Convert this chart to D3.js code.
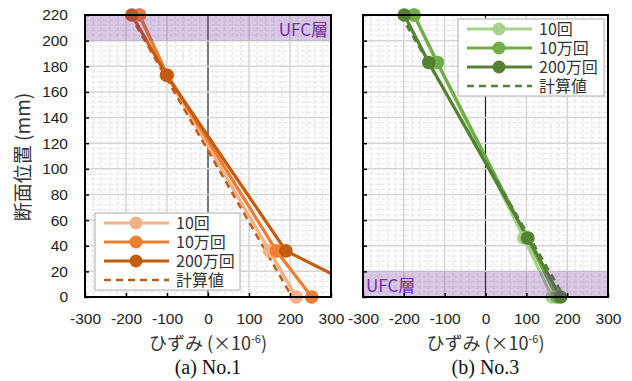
<!DOCTYPE html>
<html><head><meta charset="utf-8">
<script src="https://cdn.jsdelivr.net/npm/d3@7"></script>
<style>body{margin:0;background:#fff}svg{display:block}</style>
</head><body>
<svg id="c" width="632" height="381"></svg>
<script>
// ---- data ----
const xTicks = [-300, -200, -100, 0, 100, 200, 300];
const yTicks = [0, 20, 40, 60, 80, 100, 120, 140, 160, 180, 200, 220];
const seriesNames = ["10回", "10万回", "200万回", "計算値"];

const depthA = [220, 173, 36, 0];
const a10 = [-167, -101, 150, 215];
const a10man = [-167, -99, 167, 253];
const a200man = [-186, -101, 190, 415];
const calcDepthA = [220, 0];
const aCalc = [-190, 205];

const depthB = [220, 183, 46, 0];
const b10 = [-175, -118, 94, 163];
const b10man = [-175, -118, 102, 175];
const b200man = [-199, -139, 104, 184];
const calcDepthB = [220, 0];
const bCalc = [-208, 193];

const ufcA = [200, 220];
const ufcB = [0, 20];

const colorsA = ["#f4b183", "#ed7d31", "#c55a11", "#c55a11"];
const colorsB = ["#a9d18e", "#70ad47", "#548235", "#548235"];

const svg = d3.select("#c");
const pTop = 15, pBottom = 297;
const y = d3.scaleLinear().domain([0, 220]).range([pBottom, pTop]);
const jp = "'Noto Sans CJK JP', 'Noto Sans', sans-serif";
const num = "'Liberation Sans', Arial, sans-serif";

function panel(opts) {
  const x = d3.scaleLinear().domain([-300, 300]).range([opts.left, opts.right]);
  const g = svg.append("g");
  const id = "clip" + opts.key;
  svg.append("clipPath").attr("id", id).append("rect")
    .attr("x", opts.left).attr("y", pTop).attr("width", opts.right - opts.left).attr("height", pBottom - pTop);

  // minor grid
  const minorX = d3.range(-300, 301, 20).filter(v => v % 100 !== 0);
  const minorY = d3.range(0, 221, 4).filter(v => v % 20 !== 0);
  g.selectAll(".mx").data(minorX).join("line")
    .attr("x1", d => x(d)).attr("x2", d => x(d)).attr("y1", pTop).attr("y2", pBottom)
    .attr("stroke", "#ececec").attr("stroke-width", 1.5).attr("stroke-dasharray", "4,2");
  g.selectAll(".my").data(minorY).join("line")
    .attr("y1", d => y(d)).attr("y2", d => y(d)).attr("x1", opts.left).attr("x2", opts.right)
    .attr("stroke", "#ececec").attr("stroke-width", 1.5).attr("stroke-dasharray", "4,2");
  // major grid
  g.selectAll(".gx").data(xTicks).join("line")
    .attr("x1", d => x(d)).attr("x2", d => x(d)).attr("y1", pTop).attr("y2", pBottom)
    .attr("stroke", d => d === 0 ? "#222" : "#d6d6d6").attr("stroke-width", d => d === 0 ? 1.2 : 1.5);
  g.selectAll(".gy").data(yTicks).join("line")
    .attr("y1", d => y(d)).attr("y2", d => y(d)).attr("x1", opts.left).attr("x2", opts.right)
    .attr("stroke", "#d6d6d6").attr("stroke-width", 1.5);

  // series
  const line = d3.line().x(d => x(d[0])).y(d => y(d[1]));
  const lg = g.append("g").attr("clip-path", `url(#${id})`);
  opts.series.forEach((s, i) => {
    const pts = s.map((v, j) => [v, opts.depth[j]]);
    lg.append("path").attr("d", line(pts)).attr("fill", "none")
      .attr("stroke", opts.colors[i]).attr("stroke-width", 3.2).attr("stroke-linejoin", "round");
  });
  const cpts = opts.calc.map((v, j) => [v, opts.calcDepth[j]]);
  lg.append("path").attr("d", line(cpts)).attr("fill", "none")
    .attr("stroke", opts.colors[3]).attr("stroke-width", 2.5).attr("stroke-dasharray", "7,5");
  opts.series.forEach((s, i) => {
    const pts = s.map((v, j) => [v, opts.depth[j]]).filter(p => p[0] >= -300 && p[0] <= 300);
    g.selectAll(null).data(pts).join("circle")
      .attr("cx", d => x(d[0])).attr("cy", d => y(d[1])).attr("r", 6.8)
      .attr("fill", opts.colors[i]);
  });

  // UFC layer
  g.append("rect").attr("x", opts.left).attr("width", opts.right - opts.left)
    .attr("y", y(opts.ufc[1])).attr("height", y(opts.ufc[0]) - y(opts.ufc[1]))
    .attr("fill", "#7030a0").attr("fill-opacity", 0.26);
  g.append("text").text("UFC層").attr("x", opts.ufcX).attr("y", opts.ufcY)
    .attr("text-anchor", opts.ufcAnchor).attr("font-family", jp).attr("font-size", 17)
    .attr("fill", "#7030a0");

  // axes
  const fmt = d => String(d);
  const xa = g.append("g").attr("transform", `translate(0,${pBottom})`)
    .call(d3.axisBottom(x).tickValues(xTicks).tickFormat(fmt).tickSizeInner(-4).tickSizeOuter(0).tickPadding(16));
  xa.select(".domain").remove();
  xa.selectAll("line").attr("stroke", "#000").attr("stroke-width", 1.5);
  xa.selectAll("text").attr("font-family", num).attr("font-size", 15.5).attr("fill", "#222");
  const ya = g.append("g").attr("transform", `translate(${opts.left},0)`)
    .call(d3.axisLeft(y).tickValues(yTicks).tickFormat(fmt).tickSizeInner(-4).tickSizeOuter(0).tickPadding(17));
  ya.select(".domain").remove();
  ya.selectAll("line").attr("stroke", "#000").attr("stroke-width", 1.5);
  ya.selectAll("text").attr("font-family", num).attr("font-size", 15.5).attr("fill", "#222");
  if (!opts.showY) ya.selectAll("text").remove();

  g.append("rect").attr("x", opts.left).attr("y", pTop).attr("width", opts.right - opts.left)
    .attr("height", pBottom - pTop).attr("fill", "none").attr("stroke", "#000").attr("stroke-width", 2);

  // titles
  const cx = (opts.left + opts.right) / 2;
  const t = g.append("text").attr("x", cx).attr("y", 350).attr("text-anchor", "middle")
    .attr("font-family", jp).attr("font-size", 18).attr("fill", "#333");
  t.append("tspan").text("ひずみ (×10");
  t.append("tspan").text("-6").attr("font-size", 11).attr("dy", -7);
  t.append("tspan").text(")").attr("dy", 7);
  g.append("text").text(opts.caption).attr("x", cx).attr("y", 374).attr("text-anchor", "middle")
    .attr("font-family", "'Liberation Serif', 'Times New Roman', serif").attr("font-size", 20).attr("fill", "#111");

  // legend
  const L = opts.legend;
  const lgd = g.append("g");
  lgd.append("rect").attr("x", L.x).attr("y", L.y).attr("width", L.w).attr("height", L.h)
    .attr("fill", "#fff").attr("stroke", "#c8c8c8").attr("stroke-width", 1.5);
  seriesNames.forEach((name, i) => {
    const ry = L.y + 10 + i * 19;
    lgd.append("line").attr("x1", L.x + 9).attr("x2", L.x + 74).attr("y1", ry).attr("y2", ry)
      .attr("stroke", opts.colors[i]).attr("stroke-width", i === 3 ? 2.5 : 3.2)
      .attr("stroke-dasharray", i === 3 ? "7,5" : null);
    if (i < 3) lgd.append("circle").attr("cx", L.x + 41).attr("cy", ry).attr("r", 6.5).attr("fill", opts.colors[i]);
    lgd.append("text").text(name).attr("x", L.x + 81).attr("y", ry + 6)
      .attr("font-family", jp).attr("font-size", 16).attr("fill", "#333");
  });
}

panel({key: "A", left: 85, right: 331, depth: depthA, series: [a10, a10man, a200man],
  calc: aCalc, calcDepth: calcDepthA, colors: colorsA, ufc: ufcA,
  ufcX: 328, ufcY: 36, ufcAnchor: "end", showY: true, caption: "(a) No.1",
  legend: {x: 95, y: 213, w: 145, h: 77}});
panel({key: "B", left: 363, right: 608, depth: depthB, series: [b10, b10man, b200man],
  calc: bCalc, calcDepth: calcDepthB, colors: colorsB, ufc: ufcB,
  ufcX: 366, ufcY: 292, ufcAnchor: "start", showY: false, caption: "(b) No.3",
  legend: {x: 458, y: 19, w: 146, h: 77}});

svg.append("text").attr("transform", "translate(30,157) rotate(-90)").attr("text-anchor", "middle")
  .attr("font-family", jp).attr("font-size", 19).attr("fill", "#333").text("断面位置 (mm)");
</script>
</body></html>
